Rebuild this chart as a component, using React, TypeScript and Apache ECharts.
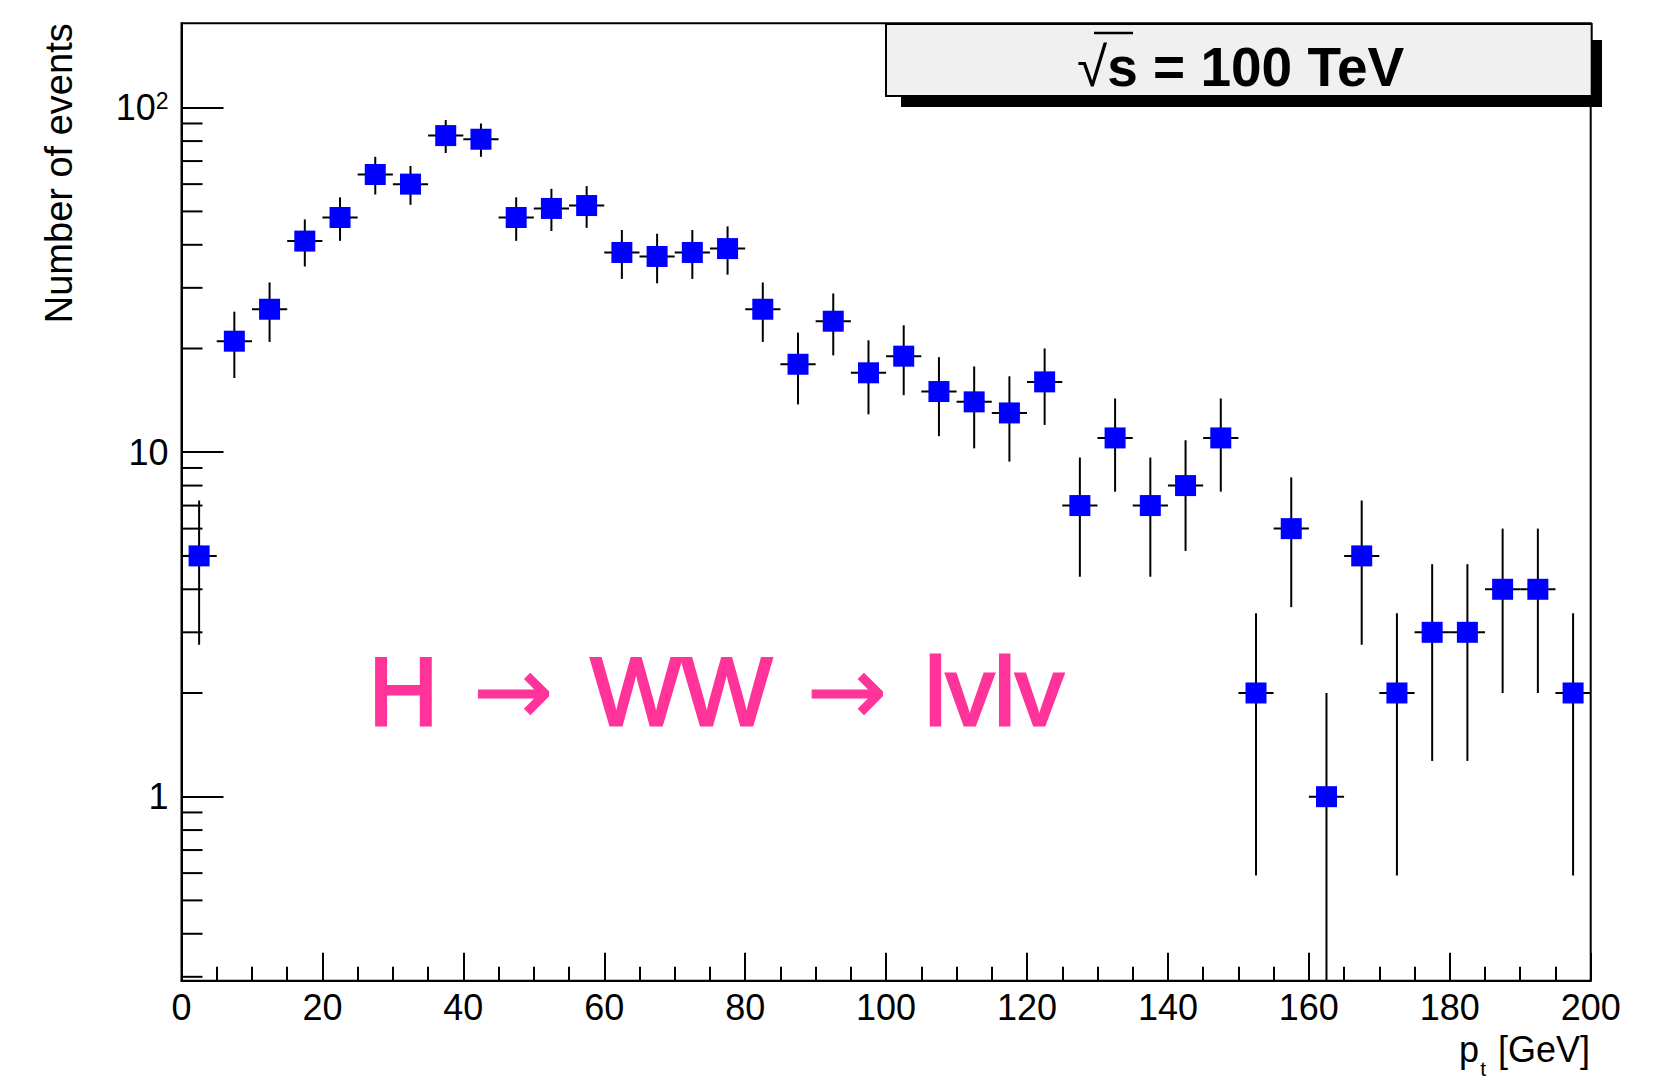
import React, { useEffect, useRef } from 'react';
import * as echarts from 'echarts';

// ---- data ----
const binCenters = [
  2.5, 7.5, 12.5, 17.5, 22.5, 27.5, 32.5, 37.5, 42.5, 47.5,
  52.5, 57.5, 62.5, 67.5, 72.5, 77.5, 82.5, 87.5, 92.5, 97.5,
  102.5, 107.5, 112.5, 117.5, 122.5, 127.5, 132.5, 137.5, 142.5, 147.5,
  152.5, 157.5, 162.5, 167.5, 172.5, 177.5, 182.5, 187.5, 192.5, 197.5,
];
const counts = [
  5, 21, 26, 41, 48, 64, 60, 83, 81, 48,
  51, 52, 38, 37, 38, 39, 26, 18, 24, 17,
  19, 15, 14, 13, 16, 7, 11, 7, 8, 11,
  2, 6, 1, 5, 2, 3, 3, 4, 4, 2,
];
// half-length of the vertical error bars
const errors = [
  2.24, 4.58, 5.1, 6.4, 6.93, 8.0, 7.75, 9.11, 9.0, 6.93,
  7.14, 7.21, 6.16, 6.08, 6.16, 6.24, 5.1, 4.24, 4.9, 4.12,
  4.36, 3.87, 3.74, 3.61, 4.0, 2.65, 3.32, 2.65, 2.83, 3.32,
  1.41, 2.45, 1.0, 2.24, 1.41, 1.73, 1.73, 2.0, 2.0, 1.41,
];
const binHalfWidth = 2.5;
const yMinorTicks = [
  0.3, 0.4, 0.5, 0.6, 0.7, 0.8, 0.9,
  2, 3, 4, 5, 6, 7, 8, 9,
  20, 30, 40, 50, 60, 70, 80, 90,
];
const yMajorLabels: [number, string][] = [
  [1, '1'],
  [10, '10'],
  [100, '{a|10}{b|2}'],
];
const X_MIN = 0;
const X_MAX = 200;
const X_INTERVAL = 20;
const Y_MIN = 0.2923;
const Y_MAX = 175.8;

const FONT = '"Liberation Sans", Arial, Helvetica, sans-serif';
const ARROW_FONT = '"DejaVu Sans", sans-serif';
const PINK = '#ff3399';

export default function App() {
  const ref = useRef<HTMLDivElement>(null);

  useEffect(() => {
    const chart = echarts.init(ref.current!, null, { renderer: 'svg' });

    const option: any = {
      animation: false,
      backgroundColor: '#ffffff',
      grid: {
        left: 181.5,
        right: 64.3,
        top: 23.3,
        bottom: 102.3,
        show: true,
        borderColor: '#000',
        borderWidth: 2,
        backgroundColor: 'transparent',
        containLabel: false,
        outerBoundsMode: 'none',
      },
      xAxis: {
        type: 'value',
        min: X_MIN,
        max: X_MAX,
        interval: X_INTERVAL,
        axisLine: { show: true, onZero: false, lineStyle: { color: '#000', width: 2 } },
        axisTick: { show: true, inside: true, length: 28, lineStyle: { color: '#000', width: 2 } },
        minorTick: { show: true, splitNumber: 4, length: 14, lineStyle: { color: '#000', width: 2 } },
        axisLabel: { show: true, margin: 9, fontSize: 36, lineHeight: 36, fontFamily: FONT, color: '#000' },
        splitLine: { show: false },
        minorSplitLine: { show: false },
      },
      yAxis: {
        type: 'log',
        logBase: 10,
        min: Y_MIN,
        max: Y_MAX,
        axisLine: { show: true, onZero: false, lineStyle: { color: '#000', width: 2 } },
        axisTick: { show: true, inside: true, length: 42, lineStyle: { color: '#000', width: 2 } },
        axisLabel: {
          show: true,
          margin: 13,
          fontSize: 36,
          fontFamily: FONT,
          color: '#000',
          showMinLabel: false,
          showMaxLabel: false,
          formatter: (v: number) => {
            for (const [k, s] of yMajorLabels) {
              if (Math.abs(v - k) / k < 1e-6) return s;
            }
            return '';
          },
          rich: {
            a: { fontSize: 36, fontFamily: FONT, color: '#000', lineHeight: 36, verticalAlign: 'top' },
            b: { fontSize: 23, fontFamily: FONT, color: '#000', lineHeight: 23, verticalAlign: 'top' },
          },
        },
        splitLine: { show: false },
      },
      series: [
        {
          type: 'custom',
          name: 'minor ticks',
          coordinateSystem: 'cartesian2d',
          silent: true,
          clip: false,
          data: yMinorTicks.map((v) => [X_MIN, v]),
          encode: { x: 0, y: 1 },
          renderItem: (_params: any, api: any) => {
            const p = api.coord([api.value(0), api.value(1)]);
            return {
              type: 'line',
              shape: { x1: p[0], y1: p[1], x2: p[0] + 21, y2: p[1] },
              style: { stroke: '#000', lineWidth: 2 },
            };
          },
        },
        {
          type: 'custom',
          name: 'events',
          coordinateSystem: 'cartesian2d',
          silent: true,
          clip: false,
          data: binCenters.map((x, i) => [x, counts[i], errors[i]]),
          encode: { x: 0, y: 1 },
          renderItem: (_params: any, api: any) => {
            const x = api.value(0);
            const y = api.value(1);
            const e = api.value(2);
            const c = api.coord([x, y]);
            const pLo = api.coord([x, Math.max(y - e, Y_MIN)]);
            const pHi = api.coord([x, Math.min(y + e, Y_MAX)]);
            const pL = api.coord([x - binHalfWidth, y]);
            const pR = api.coord([x + binHalfWidth, y]);
            return {
              type: 'group',
              children: [
                {
                  type: 'line',
                  shape: { x1: c[0], y1: pLo[1], x2: c[0], y2: pHi[1] },
                  style: { stroke: '#000', lineWidth: 2 },
                },
                {
                  type: 'line',
                  shape: { x1: pL[0], y1: c[1], x2: pR[0], y2: c[1] },
                  style: { stroke: '#000', lineWidth: 2 },
                },
                {
                  type: 'rect',
                  shape: { x: c[0] - 10.5, y: c[1] - 10.5, width: 21, height: 21 },
                  style: { fill: '#0000ff' },
                },
              ],
            };
          },
        },
      ],
      graphic: [
        {
          type: 'text',
          x: 59,
          y: 23.3,
          rotation: Math.PI / 2,
          style: {
            text: 'Number of events',
            font: `38px ${FONT}`,
            fill: '#000',
            align: 'right',
            verticalAlign: 'middle',
          },
        },
        {
          type: 'text',
          x: 1590,
          y: 1031,
          style: {
            text: '{p|p}{t|t}{g| [GeV]}',
            align: 'right',
            verticalAlign: 'top',
            rich: {
              p: { fontSize: 36, fontFamily: FONT, fill: '#000', lineHeight: 28, verticalAlign: 'top' },
              t: { fontSize: 21, fontFamily: FONT, fill: '#000', lineHeight: 21, verticalAlign: 'top', padding: [27, 2, 0, 1] },
              g: { fontSize: 36, fontFamily: FONT, fill: '#000', lineHeight: 28, verticalAlign: 'top' },
            },
          },
        },
        {
          type: 'text',
          x: 716,
          y: 691,
          style: {
            text: '{a|H }{b|\u2192}{a| WW }{b|\u2192}{a| lvlv}',
            align: 'center',
            verticalAlign: 'middle',
            rich: {
              a: { fontSize: 96, fontFamily: FONT, fill: PINK, stroke: PINK, lineWidth: 3, lineHeight: 100, verticalAlign: 'middle' },
              b: { fontSize: 96, fontFamily: ARROW_FONT, fill: PINK, stroke: PINK, lineWidth: 1, lineHeight: 100, verticalAlign: 'middle', padding: [0, 11, 0, 8] },
            },
          },
        },
        {
          type: 'rect',
          z: 100,
          shape: { x: 901, y: 40, width: 701, height: 67 },
          style: { fill: '#000' },
        },
        {
          type: 'rect',
          z: 101,
          shape: { x: 886, y: 24, width: 705.7, height: 72 },
          style: { fill: '#f0f0f0', stroke: '#000', lineWidth: 2 },
        },
        {
          type: 'text',
          z: 102,
          x: 1077,
          y: 67,
          style: {
            text: '{r|\u221A}{m|s = 100 TeV}',
            align: 'left',
            verticalAlign: 'middle',
            rich: {
              r: { fontSize: 55, fontFamily: FONT, fontWeight: 'normal', fill: '#000' },
              m: { fontSize: 55, fontFamily: FONT, fontWeight: 'bold', fill: '#000' },
            },
          },
        },
        {
          type: 'line',
          z: 102,
          shape: { x1: 1094, y1: 33, x2: 1133, y2: 33 },
          style: { stroke: '#000', lineWidth: 2.5 },
        },
      ],
    };

    chart.setOption(option);
    return () => chart.dispose();
  }, []);

  return (
    <div
      ref={ref}
      style={{ position: 'fixed', left: 0, top: 0, width: 1655, height: 1083, background: '#fff' }}
    />
  );
}
